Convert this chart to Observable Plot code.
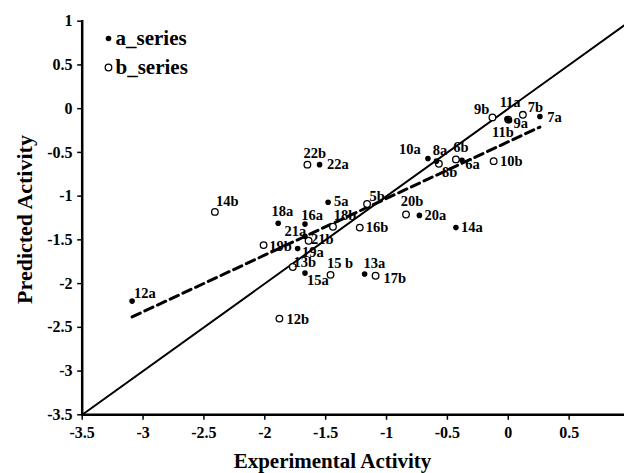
<!DOCTYPE html>
<html>
<head>
<meta charset="utf-8">
<script src="https://cdn.jsdelivr.net/npm/d3@7"></script>
<script src="https://cdn.jsdelivr.net/npm/@observablehq/plot@0.6"></script>
<style>
  html, body { margin: 0; padding: 0; background: #fff; }
</style>
</head>
<body>
<div id="chart"></div>
<script>
// ---- data ----
const aLabels = ["12a","18a","16a","21a","19a","15a","13a","22a","5a","20a","14a","10a","8a","6a","11a","9a","7a"];
const aX      = [-3.09,-1.89,-1.67,-1.67,-1.73,-1.67,-1.18,-1.55,-1.48,-0.73,-0.43,-0.66,-0.59,-0.38,-0.01,0.01,0.26];
const aY      = [-2.20,-1.31,-1.32,-1.46,-1.60,-1.88,-1.89,-0.64,-1.07,-1.22,-1.36,-0.57,-0.60,-0.59,-0.115,-0.135,-0.09];

const bLabels = ["14b","19b","21b","13b","15 b","12b","22b","5b","18b","16b","17b","20b","8b","6b","10b","9b","11b","7b"];
const bX      = [-2.41,-2.01,-1.64,-1.77,-1.46,-1.88,-1.65,-1.16,-1.44,-1.22,-1.09,-0.84,-0.57,-0.43,-0.12,-0.13,0.00,0.12];
const bY      = [-1.18,-1.56,-1.51,-1.81,-1.90,-2.40,-0.64,-1.09,-1.35,-1.36,-1.91,-1.21,-0.63,-0.58,-0.60,-0.10,-0.125,-0.07];

const fitX = [-3.09, 0.26];
const fitY = [-2.38, -0.21];
const identityLine = [-3.5, 1];

const xTicks = [-3.5,-3,-2.5,-2,-1.5,-1,-0.5,0,0.5,1];
const yTicks = [-3.5,-3,-2.5,-2,-1.5,-1,-0.5,0,0.5,1];
const legendNames = ["a_series","b_series"];
const xTitle = "Experimental Activity";
const yTitle = "Predicted Activity";

// ---- label placement (pixel offsets of text start from its point) ----
const labelOffsets = {
  "12a":[2,-8], "18a":[-6.6,-11.5], "16a":[-3.6,-9], "21a":[-20.5,-5], "19a":[4.4,3.7],
  "15a":[2,7.7], "13a":[-1,-11], "22a":[7.4,-0.5], "5a":[6,-1], "20a":[5,0], "14a":[5,-0.6],
  "10a":[-29,-9.3], "8a":[-3.7,-11], "6a":[3.3,4.3], "11a":[-7.4,-16], "9a":[4,3.3], "7a":[7.4,1],
  "14b":[1,-10.5], "19b":[5.6,1.3], "21b":[2.4,-1.5], "13b":[0.6,-5], "15 b":[-3.6,-11],
  "12b":[7,1], "22b":[-4,-11], "5b":[2.5,-8], "18b":[0.7,-11], "16b":[6,0], "17b":[8,3],
  "20b":[-5.3,-13], "8b":[3.2,8.7], "6b":[-2.7,-11.6], "10b":[6.3,0], "9b":[-18.4,-7.7],
  "11b":[-16.3,12.7], "7b":[5,-7.3]
};

const aData = aLabels.map((l,i) => ({label:l, x:aX[i], y:aY[i]}));
const bData = bLabels.map((l,i) => ({label:l, x:bX[i], y:bY[i]}));
const fitData = fitX.map((x,i) => ({x, y:fitY[i]}));
const axisMin = xTicks[0];
const axisMax = xTicks[xTicks.length - 1];
// L-shaped axis frame (left and bottom axis lines) from the tick extent
const axisFrame = [
  {x: axisMin, y: axisMax},
  {x: axisMin, y: axisMin},
  {x: axisMax, y: axisMin}
];

// tick-shaped symbols (small filled bars) drawn by Plot.dot
const xTickSymbol = { draw(ctx) { ctx.rect(-0.75, 0, 1.5, 5); } };
const yTickSymbol = { draw(ctx) { ctx.rect(-5, -0.75, 5, 1.5); } };

const FONT = '"Liberation Serif", "Times New Roman", Times, serif';

const labelMarks = [...aData, ...bData].map(d => Plot.text([d], {
  x:"x", y:"y", text:"label",
  dx: labelOffsets[d.label][0], dy: labelOffsets[d.label][1],
  textAnchor:"start", lineAnchor:"middle", fontSize:14.5, fontWeight:"bold", fill:"black"
}));

const chart = Plot.plot({
  width: 624,
  height: 473,
  marginLeft: 82, marginRight: 0, marginTop: 20, marginBottom: 59,
  style: { fontFamily: FONT, fontWeight: "bold", background: "white", overflow: "hidden" },
  x: { domain: [-3.5, 1], range: [81.7, 629.5] },
  y: { domain: [-3.5, 1], range: [414.3, 20.7] },
  marks: [
    // tick labels
    Plot.axisX(xTicks, { tickSize: 0, tickPadding: 12, tickFormat: d => String(d), fontSize: 16, fill: "black", label: null }),
    Plot.axisY(yTicks, { tickSize: 0, tickPadding: 10, tickFormat: d => String(d), fontSize: 16, fill: "black", label: null }),
    // tick marks
    Plot.dot(xTicks, { x: d => d, y: axisMin, symbol: xTickSymbol, fill: "black", stroke: "none" }),
    Plot.dot(yTicks, { x: axisMin, y: d => d, symbol: yTickSymbol, fill: "black", stroke: "none" }),
    // axis lines
    Plot.line(axisFrame, { x: "x", y: "y", stroke: "black", strokeWidth: 2.5, strokeLinejoin: "miter", strokeLinecap: "square" }),
    // reference and fit lines
    Plot.line(identityLine, { x: d => d, y: d => d, stroke: "black", strokeWidth: 2 }),
    Plot.line(fitData, { x: "x", y: "y", stroke: "black", strokeWidth: 3, strokeDasharray: "9,5" }),
    // points
    Plot.dot(bData, { x: "x", y: "y", r: 3.3, fill: "white", stroke: "black", strokeWidth: 1.3 }),
    Plot.dot(aData, { x: "x", y: "y", r: 2.8, fill: "black", stroke: "none" }),
    ...labelMarks,
    // legend
    Plot.dot([legendNames[0]], { frameAnchor: "top-left", dx: 26, dy: 18, r: 2.8, fill: "black", stroke: "none" }),
    Plot.dot([legendNames[1]], { frameAnchor: "top-left", dx: 26, dy: 47, r: 3.3, fill: "white", stroke: "black", strokeWidth: 1.3 }),
    Plot.text([legendNames[0]], { text: d => d, frameAnchor: "top-left", dx: 33, dy: 18, textAnchor: "start", lineAnchor: "middle", fontSize: 21, fontWeight: "bold", fill: "black" }),
    Plot.text([legendNames[1]], { text: d => d, frameAnchor: "top-left", dx: 33, dy: 47, textAnchor: "start", lineAnchor: "middle", fontSize: 21, fontWeight: "bold", fill: "black" }),
    // axis titles
    Plot.text([xTitle], { text: d => d, frameAnchor: "bottom", dx: -21, dy: 47, textAnchor: "middle", lineAnchor: "middle", fontSize: 21, fontWeight: "bold", fill: "black" }),
    Plot.text([yTitle], { text: d => d, frameAnchor: "left", dx: -58, dy: 2, rotate: -90, textAnchor: "middle", lineAnchor: "middle", fontSize: 22, fontWeight: "bold", fill: "black" })
  ]
});
document.getElementById("chart").append(chart);
</script>
</body>
</html>
